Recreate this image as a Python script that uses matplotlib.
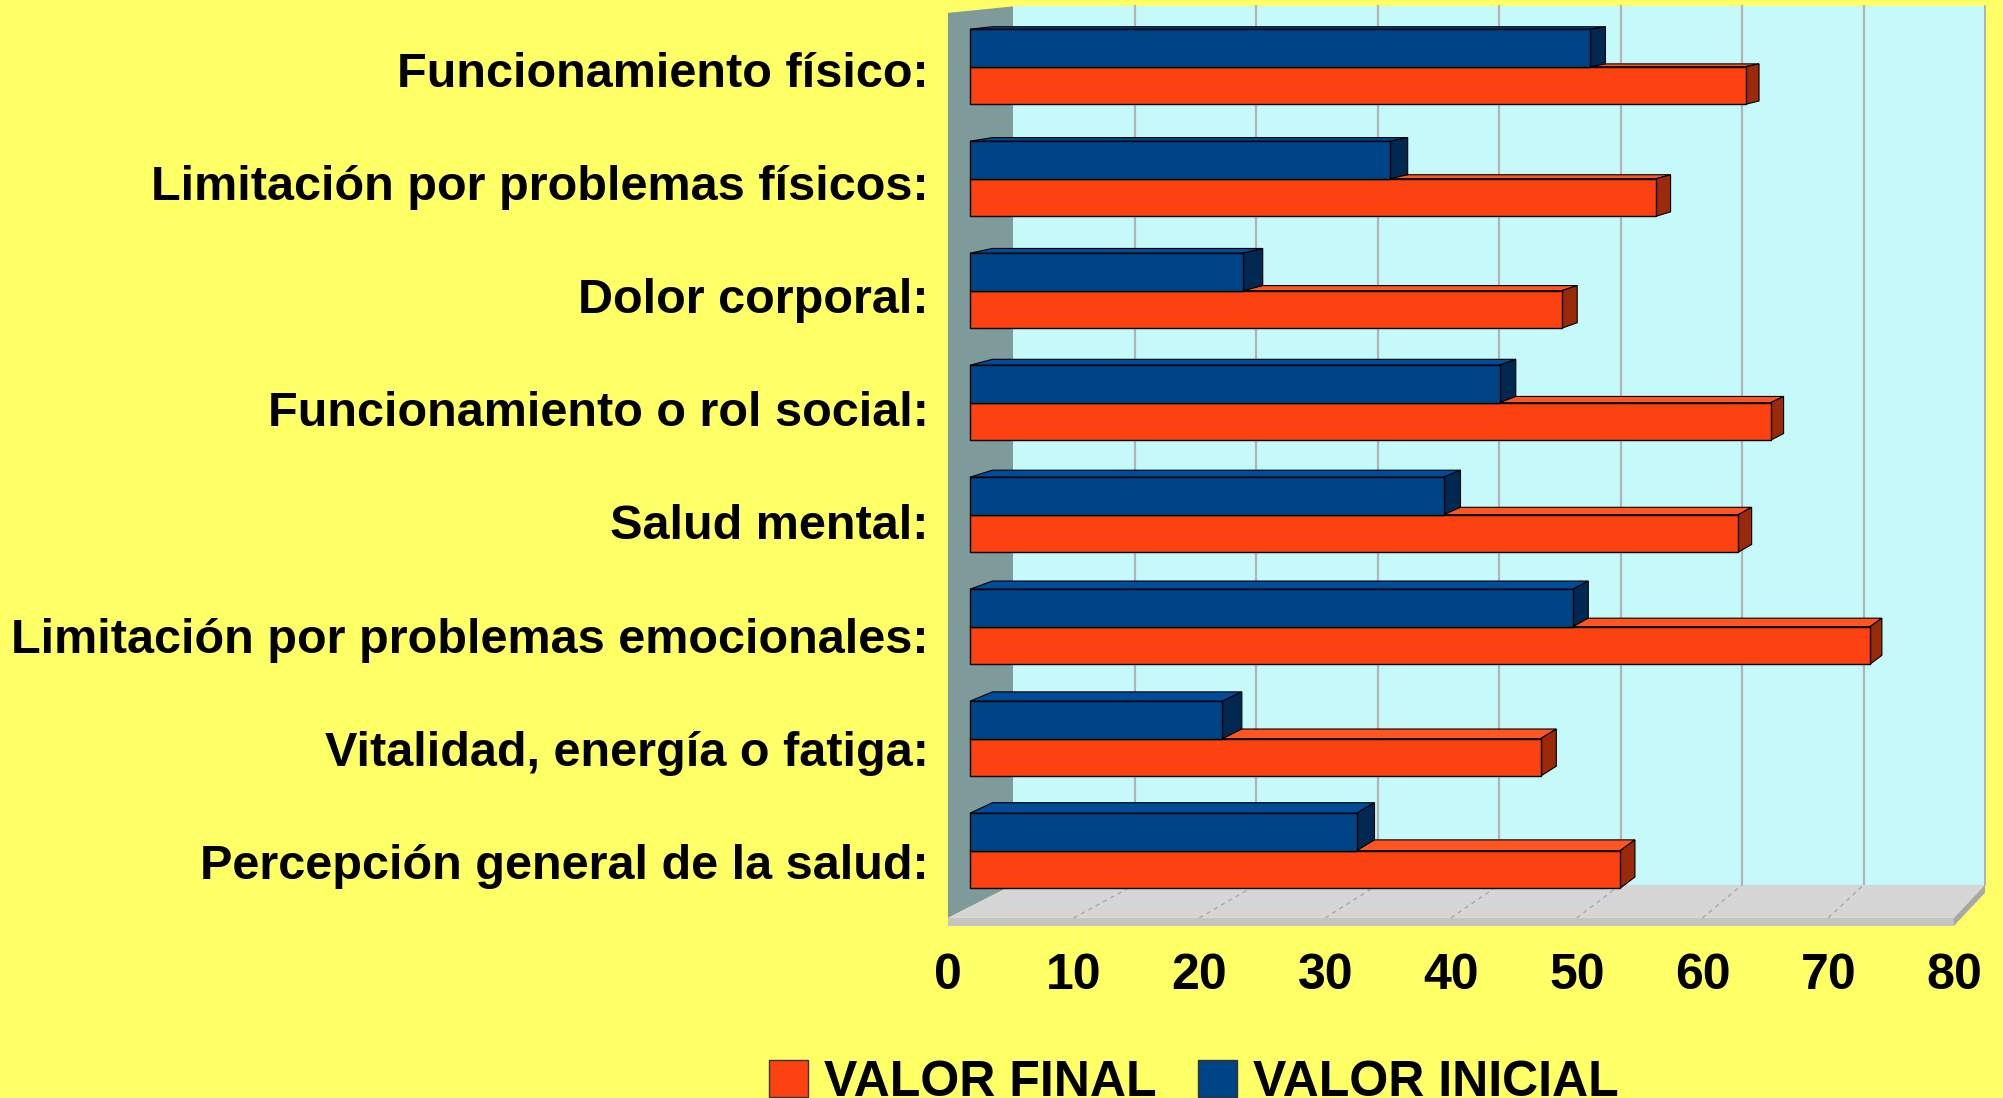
import matplotlib
matplotlib.use("Agg")
import matplotlib.pyplot as plt
from matplotlib.patches import Polygon
import numpy as np

plt.rcParams['font.family'] = ['Liberation Sans', 'DejaVu Sans']
plt.rcParams['font.weight'] = 'bold'

# ---------------- data ----------------
categories = [
    "Funcionamiento físico:",
    "Limitación por problemas físicos:",
    "Dolor corporal:",
    "Funcionamiento o rol social:",
    "Salud mental:",
    "Limitación por problemas emocionales:",
    "Vitalidad, energía o fatiga:",
    "Percepción general de la salud:",
]
valor_final = [62.4, 55.2, 47.6, 64.4, 61.8, 72.4, 45.9, 52.3]
valor_inicial = [49.9, 33.8, 22.0, 42.6, 38.1, 48.5, 20.3, 31.1]
series_labels = ["VALOR FINAL", "VALOR INICIAL"]
x_ticks = [0, 10, 20, 30, 40, 50, 60, 70, 80]

# ---------------- styling / geometry ----------------
BG = '#FFFF66'
WALL_BACK = '#C6FAFA'
WALL_SIDE = '#7E9A9A'
FLOOR_TOP = '#D6D6D6'
FLOOR_FRONT = '#C4C4C4'
FLOOR_SIDE = '#A8A8A8'
GRID = '#B4B4B4'
RED = ('#FC4210', '#FF5522', '#9A2A0A')     # front, top, side
BLUE = ('#004488', '#004C99', '#002850')

XMAX = 80
C_TOP, C_BOT = -0.5, 7.5
D_FRONT, D_BACK = 0.338, 0.684
BAR_H = 0.335
FLOOR_TH = 0.0707


def proj(v, c, d):
    """oblique/perspective-like projection of (value, category, depth)"""
    v = np.asarray(v, dtype=float)
    c = np.asarray(c, dtype=float)
    return v + d * (5.169 - 0.03376 * v), c + d * (-0.0721 - 0.02925 * c)


fig = plt.figure(figsize=(20.03, 10.98), dpi=100, facecolor=BG)
ax = fig.add_axes([0.47329, 0.16407, 0.50225, 0.82418])
ax.set_facecolor('none')
ax.set_xlim(0, XMAX)
ax.set_ylim(C_BOT, C_TOP)
for s in ax.spines.values():
    s.set_visible(False)


def poly(pts, fc, ec='none', lw=0.0, z=1):
    p = Polygon(pts, closed=True, facecolor=fc, edgecolor=ec, linewidth=lw,
                zorder=z, clip_on=False, joinstyle='miter')
    ax.add_patch(p)
    return p


def corners(pairs, d):
    return [tuple(proj(v, c, d)) for v, c in pairs]


# walls
poly(corners([(0, C_TOP), (XMAX, C_TOP), (XMAX, C_BOT), (0, C_BOT)], 1.0), WALL_BACK, z=0.5)
poly([tuple(proj(0, C_TOP, 0)), tuple(proj(0, C_TOP, 1)),
      tuple(proj(0, C_BOT, 1)), tuple(proj(0, C_BOT, 0))], WALL_SIDE, z=0.6)
# right edge of back wall
ax.plot(*zip(proj(XMAX, C_TOP, 1), proj(XMAX, C_BOT, 1)), color='#A8A8A8', lw=1.2,
        zorder=0.7, clip_on=False)
# back wall gridlines
for v in x_ticks[1:-1]:
    ax.plot(*zip(proj(v, C_TOP, 1), proj(v, C_BOT, 1)), color=GRID, lw=1.6,
            zorder=0.8, clip_on=False)
# floor
poly([tuple(proj(0, C_BOT, 0)), tuple(proj(XMAX, C_BOT, 0)),
      tuple(proj(XMAX, C_BOT, 1)), tuple(proj(0, C_BOT, 1))], FLOOR_TOP, z=0.9)
poly([tuple(proj(0, C_BOT, 0)), tuple(proj(XMAX, C_BOT, 0)),
      tuple(proj(XMAX, C_BOT + FLOOR_TH, 0)), tuple(proj(0, C_BOT + FLOOR_TH, 0))],
     FLOOR_FRONT, z=0.9)
poly([tuple(proj(XMAX, C_BOT, 0)), tuple(proj(XMAX, C_BOT, 1)),
      tuple(proj(XMAX, C_BOT + FLOOR_TH, 1)), tuple(proj(XMAX, C_BOT + FLOOR_TH, 0))],
     FLOOR_SIDE, z=0.9)
for v in x_ticks[1:-1]:
    ax.plot(*zip(proj(v, C_BOT, 0), proj(v, C_BOT, 1)), color='#A8A8A8', lw=1.0,
            ls=(0, (3, 3)), zorder=0.95, clip_on=False)

# ---------------- bars ----------------
ypos = np.arange(len(categories))


def draw_series(values, c_top, c_bot, colors, label, z):
    values = np.asarray(values, dtype=float)
    left = proj(np.zeros_like(values), c_top, D_FRONT)[0]
    right = proj(values, c_top, D_FRONT)[0]
    yt = proj(np.zeros_like(values), c_top, D_FRONT)[1]
    yb = proj(np.zeros_like(values), c_bot, D_FRONT)[1]
    cont = ax.barh((yt + yb) / 2, right - left, height=yb - yt, left=left,
                   color=colors[0], edgecolor='black', linewidth=1.0,
                   zorder=z + 0.5, label=label)
    for i, val in enumerate(values):
        # top face
        poly([tuple(proj(0, c_top[i], D_FRONT)), tuple(proj(val, c_top[i], D_FRONT)),
              tuple(proj(val, c_top[i], D_BACK)), tuple(proj(0, c_top[i], D_BACK))],
             colors[1], ec='black', lw=0.8, z=z)
        # side face
        poly([tuple(proj(val, c_top[i], D_FRONT)), tuple(proj(val, c_bot[i], D_FRONT)),
              tuple(proj(val, c_bot[i], D_BACK)), tuple(proj(val, c_top[i], D_BACK))],
             colors[2], ec='black', lw=0.8, z=z)
    return cont


red = draw_series(valor_final, ypos, ypos + BAR_H, RED, series_labels[0], 3)
blue = draw_series(valor_inicial, ypos - BAR_H, ypos, BLUE, series_labels[1], 4)

# ---------------- axes text ----------------
ax.set_yticks(ypos)
ax.set_yticklabels(categories, fontsize=35, fontweight='bold')
ax.tick_params(axis='y', length=0, pad=14)
ax.set_xticks(x_ticks)
ax.set_xticklabels([str(t) for t in x_ticks], fontsize=36, fontweight='bold')
ax.tick_params(axis='x', length=0, pad=25)

leg = fig.legend(handles=[red, blue], labels=series_labels, loc='center',
                 bbox_to_anchor=(0.5961, 0.0137), ncol=2, frameon=False,
                 handlelength=0.78, handleheight=0.78, handletextpad=0.32,
                 columnspacing=0.82,
                 prop={'weight': 'bold', 'size': 36})
for h in leg.legend_handles:
    h.set_edgecolor('#333333')

fig.savefig('out.png', dpi=100, facecolor=BG)
